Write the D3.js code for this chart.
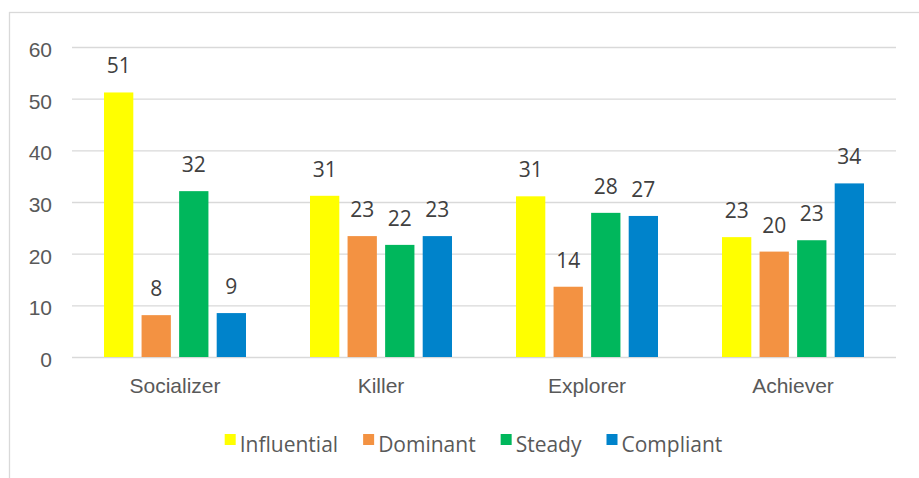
<!DOCTYPE html>
<html>
<head>
<meta charset="utf-8">
<script src="https://cdn.jsdelivr.net/npm/d3@7"></script>
<style>
  html, body { margin: 0; padding: 0; background: #ffffff; }
  svg { display: block; font-family: "Open Sans", "Noto Sans", sans-serif; }
</style>
</head>
<body>
<svg id="chart" width="919" height="478"></svg>
<script>
// Player types and DISC styles
const categories = ["Socializer", "Killer", "Explorer", "Achiever"];
const seriesNames = ["Influential", "Dominant", "Steady", "Compliant"];
const influential = [51.2, 31.2, 31.1, 23.2];
const dominant    = [8.1, 23.4, 13.6, 20.4];
const steady      = [32.1, 21.7, 27.9, 22.6];
const compliant   = [8.5, 23.4, 27.3, 33.6];
const yTicks = [0, 10, 20, 30, 40, 50, 60];
const seriesColors = ["#FFFF00", "#F39242", "#00B75C", "#0083CB"];

const seriesValues = [influential, dominant, steady, compliant];

const svg = d3.select("#chart");
const W = 919, H = 478;
const plot = { left: 72, right: 896, top: 47, bottom: 357 };
const fontSize = 21;

// Outer chart frame
svg.append("rect")
  .attr("x", 9.5).attr("y", 12.5)
  .attr("width", W + 20).attr("height", H + 20)
  .attr("fill", "#ffffff")
  .attr("stroke", "#d9d9d9").attr("stroke-width", 1.3);

const y = d3.scaleLinear().domain([0, 60]).range([plot.bottom, plot.top]);

const x0 = d3.scaleBand()
  .domain(categories)
  .range([plot.left, plot.right])
  .paddingInner(0.3107)
  .paddingOuter(0.3107 / 2);

const x1 = d3.scaleBand()
  .domain(seriesNames)
  .range([0, x0.bandwidth()])
  .paddingInner(0.22)
  .paddingOuter(0);

// Gridlines and value axis
const yAxis = svg.append("g")
  .attr("transform", `translate(${plot.left},0)`)
  .call(d3.axisLeft(y).tickValues(yTicks)
    .tickSize(-(plot.right - plot.left)).tickPadding(20).tickFormat(d3.format("d")));
yAxis.select(".domain").remove();
yAxis.selectAll(".tick line").attr("stroke", "#d9d9d9").attr("stroke-width", 1.3);
yAxis.selectAll(".tick text")
  .attr("fill", "#595959").attr("font-size", fontSize)
  .attr("dy", "0.45em");

// Category axis
const xAxis = svg.append("g")
  .attr("transform", `translate(0,${plot.bottom})`)
  .call(d3.axisBottom(x0).tickSize(0).tickPadding(0));
xAxis.select(".domain").remove();
xAxis.selectAll(".tick text")
  .attr("fill", "#595959").attr("font-size", fontSize)
  .attr("dy", null).attr("y", 36);

// Bars
const rows = [];
categories.forEach((c, ci) => {
  seriesNames.forEach((s, si) => {
    rows.push({ cat: c, series: s, value: seriesValues[si][ci], color: seriesColors[si] });
  });
});

svg.append("g")
  .selectAll("rect")
  .data(rows)
  .join("rect")
  .attr("x", d => x0(d.cat) + x1(d.series))
  .attr("y", d => y(d.value))
  .attr("width", x1.bandwidth())
  .attr("height", d => y(0) - y(d.value))
  .attr("fill", d => d.color);

// Value labels
svg.append("g")
  .selectAll("text")
  .data(rows)
  .join("text")
  .attr("x", d => x0(d.cat) + x1(d.series) + x1.bandwidth() / 2)
  .attr("y", d => y(d.value) - 19)
  .attr("text-anchor", "middle")
  .attr("font-size", fontSize)
  .attr("fill", "#404040")
  .text(d => d3.format(".0f")(d.value));

// Legend
const legend = svg.append("g");
const items = legend.selectAll("g")
  .data(seriesNames)
  .join("g");
items.append("rect")
  .attr("width", 11).attr("height", 11)
  .attr("y", -11)
  .attr("fill", (d, i) => seriesColors[i]);
items.append("text")
  .attr("x", 15)
  .attr("y", 7)
  .attr("font-size", fontSize)
  .attr("fill", "#595959")
  .text(d => d);

let cursor = 0;
items.each(function () {
  const g = d3.select(this);
  const w = 15 + g.select("text").node().getComputedTextLength();
  g.attr("transform", `translate(${cursor},0)`);
  cursor += w + 25;
});
const legendWidth = cursor - 25;
legend.attr("transform", `translate(${473.5 - legendWidth / 2},${445})`);
</script>
</body>
</html>
